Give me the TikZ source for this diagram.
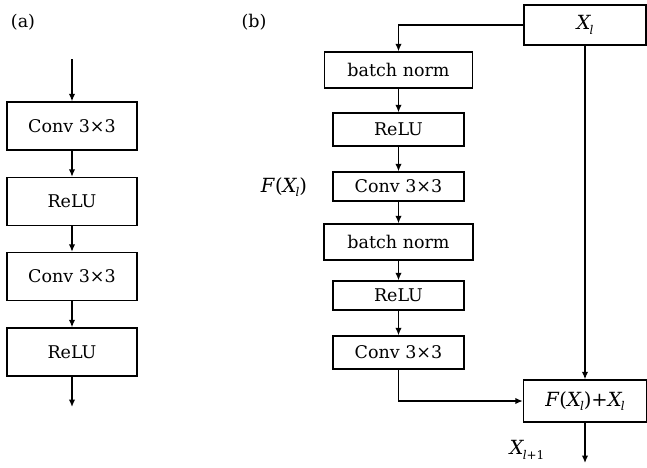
\documentclass[tikz,border=0pt]{standalone}
\usepackage{fontspec}
\setmainfont{DejaVu Serif}
\usetikzlibrary{arrows.meta}
\newcommand{\lsub}[1]{\raisebox{-4.5pt}{\fontsize{12}{13}\selectfont #1}}
\newcommand{\vX}[1]{\textit{X}\kern-1.5pt\lsub{#1}}
\begin{document}
\begin{tikzpicture}[x=1pt,y=-1pt,
  box/.style={draw,line width=1.4pt,inner sep=0pt,font=\fontsize{17.5}{20}\selectfont},
  conn/.style={line width=1.4pt,-{Latex[length=7.5pt,width=6.5pt]}},
  lbl/.style={font=\fontsize{17.5}{20}\selectfont,inner sep=0pt},
  mth/.style={font=\fontsize{19.5}{22}\selectfont,inner sep=0pt}]
\useasboundingbox (0,0) rectangle (647,467);
% ---------- (a)
\node[lbl] (la) at (23,22) {(a)};
\coordinate (ain) at (72,59);
\node[box,minimum width=130pt,minimum height=48pt] (a1) at (72,126) {Conv 3×3};
\node[box,minimum width=130pt,minimum height=48pt] (a2) at (72,201.5) {ReLU};
\node[box,minimum width=130pt,minimum height=48pt] (a3) at (72,276.5) {Conv 3×3};
\node[box,minimum width=130pt,minimum height=48pt] (a4) at (72,352) {ReLU};
\coordinate (aout) at (72,407);
\draw[conn] (ain) -- (a1.north);
\draw[conn] (a1.south) -- (a2.north);
\draw[conn] (a2.south) -- (a3.north);
\draw[conn] (a3.south) -- (a4.north);
\draw[conn] (a4.south) -- (aout);
% ---------- (b)
\node[lbl] (lb) at (254,22) {(b)};
\node[box,mth,minimum width=122pt,minimum height=40pt] (xl) at (585,25) {\vX{\textit{l}}};
\node[box,minimum width=148pt,minimum height=36pt] (bn1) at (398.5,70) {batch norm};
\node[box,minimum width=131pt,minimum height=33pt] (r1) at (398.5,129.5) {ReLU};
\node[box,minimum width=131pt,minimum height=29pt] (c1) at (398.5,186.5) {Conv 3×3};
\node[mth] (fx) at (284,187) {\textit{F}(\vX{\textit{l}})};
\node[box,minimum width=149pt,minimum height=36pt] (bn2) at (398.5,242) {batch norm};
\node[box,minimum width=131pt,minimum height=29pt] (r2) at (398.5,295.5) {ReLU};
\node[box,minimum width=131pt,minimum height=33pt] (c2) at (398.5,352.5) {Conv 3×3};
\node[box,mth,minimum width=123pt,minimum height=42pt] (fb) at (585,401) {\textit{F}(\vX{\textit{l}})+\vX{\textit{l}}};
\coordinate (bout) at (585,463);
\node[mth] (xl1) at (527,450) {\vX{\textit{l}+1}};
\draw[conn] (xl.west) -| (bn1.north);
\draw[conn] (bn1.south) -- (r1.north);
\draw[conn] (r1.south) -- (c1.north);
\draw[conn] (c1.south) -- (bn2.north);
\draw[conn] (bn2.south) -- (r2.north);
\draw[conn] (r2.south) -- (c2.north);
\draw[conn] (c2.south) |- (fb.west);
\draw[conn] (xl.south) -- (fb.north);
\draw[conn] (fb.south) -- (bout);
\end{tikzpicture}
\end{document}
